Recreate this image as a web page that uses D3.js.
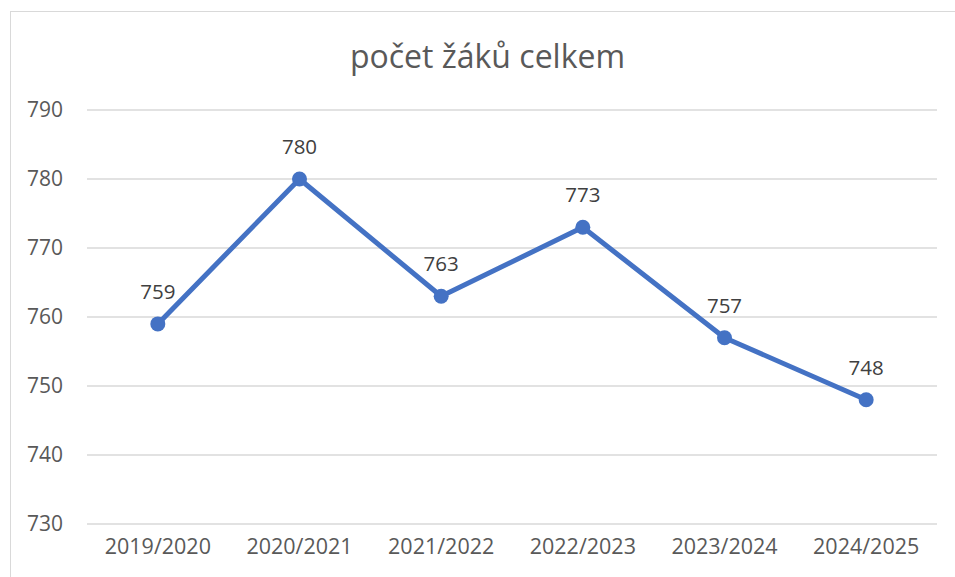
<!DOCTYPE html>
<html>
<head>
<meta charset="utf-8">
<script src="https://cdn.jsdelivr.net/npm/d3@7"></script>
<style>
  body { margin: 0; background: #fff; }
  svg { display: block; font-family: "Open Sans", sans-serif; }
</style>
</head>
<body>
<div id="chart"></div>
<script>
// chart data
const years = ["2019/2020", "2020/2021", "2021/2022", "2022/2023", "2023/2024", "2024/2025"];
const pupils = [759, 780, 763, 773, 757, 748];
const yTicks = [730, 740, 750, 760, 770, 780, 790];
const title = "počet žáků celkem";

const width = 955, height = 577;
const margin = { top: 110, right: 18, bottom: 53, left: 87 };

const svg = d3.select("#chart").append("svg")
  .attr("width", width)
  .attr("height", height);

// chart frame
svg.append("rect")
  .attr("x", 10.5).attr("y", 11.5)
  .attr("width", 960).attr("height", 600)
  .attr("fill", "none")
  .attr("stroke", "#d9d9d9")
  .attr("stroke-width", 1);

const x = d3.scaleBand()
  .domain(years)
  .range([margin.left, width - margin.right]);

const y = d3.scaleLinear()
  .domain([730, 790])
  .range([height - margin.bottom, margin.top]);

// gridlines
svg.append("g")
  .selectAll("line")
  .data(yTicks)
  .join("line")
  .attr("x1", margin.left).attr("x2", width - margin.right)
  .attr("y1", d => y(d)).attr("y2", d => y(d))
  .attr("stroke", "#d9d9d9")
  .attr("stroke-width", 1.5);

// y axis labels
const yAxis = svg.append("g")
  .attr("transform", `translate(${margin.left - 24},0)`)
  .call(d3.axisLeft(y).tickValues(yTicks).tickSize(0).tickPadding(0));
yAxis.select(".domain").remove();
yAxis.selectAll("text")
  .attr("fill", "#595959")
  .style("font-size", "21px")
  .style("font-family", "'Open Sans', sans-serif");

// x axis labels
const xAxis = svg.append("g")
  .attr("transform", `translate(0,${height - margin.bottom + 15})`)
  .call(d3.axisBottom(x).tickSize(0).tickPadding(0));
xAxis.select(".domain").remove();
xAxis.selectAll("text")
  .attr("fill", "#595959")
  .attr("dy", "0.71em")
  .style("font-size", "21.5px")
  .style("font-family", "'Open Sans', sans-serif");

// title
svg.append("text")
  .attr("x", width / 2 + 10)
  .attr("y", 68)
  .attr("text-anchor", "middle")
  .attr("fill", "#595959")
  .style("font-size", "32px")
  .text(title);

const cx = d => x(d) + x.bandwidth() / 2;

const line = d3.line()
  .x((d, i) => cx(years[i]))
  .y(d => y(d));

svg.append("path")
  .datum(pupils)
  .attr("fill", "none")
  .attr("stroke", "#4472c4")
  .attr("stroke-width", 5)
  .attr("stroke-linejoin", "round")
  .attr("d", line);

svg.append("g")
  .selectAll("circle")
  .data(pupils)
  .join("circle")
  .attr("cx", (d, i) => cx(years[i]))
  .attr("cy", d => y(d))
  .attr("r", 7.5)
  .attr("fill", "#4472c4");

// data labels
svg.append("g")
  .selectAll("text")
  .data(pupils)
  .join("text")
  .attr("x", (d, i) => cx(years[i]))
  .attr("y", d => y(d) - 25)
  .attr("text-anchor", "middle")
  .attr("fill", "#404040")
  .style("font-size", "20.5px")
  .text(d => d);
</script>
</body>
</html>
